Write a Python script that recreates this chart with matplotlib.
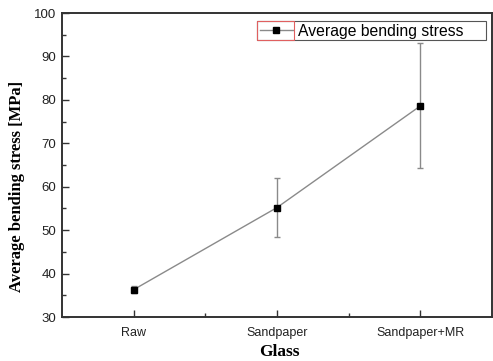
import numpy as np
import matplotlib.pyplot as plt
from matplotlib.patches import Rectangle
from matplotlib.lines import Line2D

categories = ['Raw', 'Sandpaper', 'Sandpaper+MR']
stress = [36.3, 55.2, 78.6]
stress_err = [0.8, 6.8, 14.4]


def plot_stress():
    fig = plt.figure(figsize=(4.93, 3.61), dpi=100)
    ax = fig.add_axes([62 / 493, 44 / 361, 430 / 493, 304 / 361])

    x = np.arange(1, len(categories) + 1)
    ax.errorbar(x, stress, yerr=stress_err, color='#8a8a8a', lw=1.0,
                ecolor='#8a8a8a', elinewidth=1.0, capsize=2.5, capthick=1.0,
                marker='s', markersize=4.5, markerfacecolor='black',
                markeredgecolor='black')

    ax.set_xlim(0.5, 3.5)
    ax.set_ylim(30, 100)
    ax.set_xticks(x)
    ax.set_xticklabels(categories, fontsize=9, family='Liberation Sans', color='#222222')
    ax.set_xticks([1.5, 2.5], minor=True)
    ax.set_yticks(np.arange(30, 101, 10))
    ax.set_yticks(np.arange(35, 100, 10), minor=True)
    for lab in ax.get_yticklabels():
        lab.set_fontsize(9.5)
        lab.set_family('Liberation Sans')
        lab.set_color('#222222')
    ax.tick_params(which='major', direction='in', length=5, width=1.0, color='#333333', pad=4)
    ax.tick_params(axis='x', which='major', pad=7)
    ax.tick_params(which='minor', direction='in', length=3, width=1.0, color='#333333')
    for s in ax.spines.values():
        s.set_linewidth(1.4)
        s.set_color('#333333')

    ax.set_xlabel('Glass', fontsize=12.5, fontweight='bold', family='Liberation Serif',
                  va='center')
    ax.xaxis.set_label_coords(0.505, -0.115)
    ax.set_ylabel('Average bending stress [MPa]', fontsize=12, fontweight='bold',
                  family='Liberation Serif', va='center')
    ax.yaxis.set_label_coords(-0.105, 0.43)

    handle = Line2D([], [], color='#8a8a8a', lw=1.0, marker='s', markersize=4.5,
                    markerfacecolor='black', markeredgecolor='black')
    ax.legend([handle], ['Average bending stress'], loc='upper left',
              bbox_to_anchor=(0.455, 0.972), frameon=False,
              handlelength=2.1, handletextpad=0.3, borderpad=0.15, borderaxespad=0,
              prop={'family': 'Liberation Sans', 'size': 11.3})

    # legend frame and red selection box around the legend handle
    fig.add_artist(Rectangle((257 / 493, 1 - 40 / 361), 229 / 493, 19 / 361,
                             transform=fig.transFigure, fill=False,
                             edgecolor='#555555', lw=0.8))
    fig.add_artist(Rectangle((257 / 493, 1 - 40 / 361), 37 / 493, 19 / 361,
                             transform=fig.transFigure, fill=False,
                             edgecolor='#e06060', lw=0.8))

    fig.savefig('out.png', dpi=100)
    plt.close(fig)


if __name__ == "__main__":
    plot_stress()
